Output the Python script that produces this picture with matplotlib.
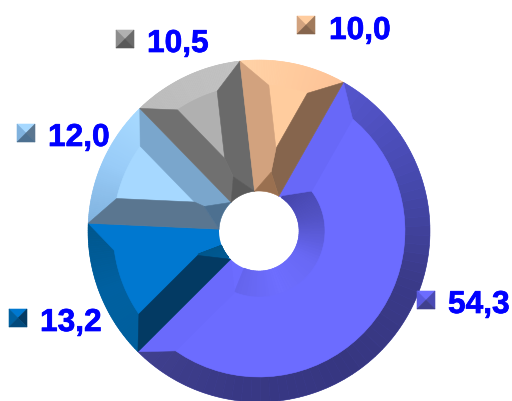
import numpy as np
import matplotlib
matplotlib.use('Agg')
import matplotlib.pyplot as plt
import matplotlib.patheffects as pe
from matplotlib.colors import to_rgb
from matplotlib.patches import Polygon

# values, clockwise from the big slice
values = [54.3, 13.2, 12.0, 10.5, 10.0]
labels = ['54,3', '13,2', '12,0', '10,5', '10,0']

# colours of each slice
face_colors = ['#6c6cff', '#0078d0', '#a6d8ff', '#b0b0b0', '#ffcc9e']
rim_colors = [['#40408e', '#383884', '#363680', '#3a3a88', '#474ab0', '#5555cc'],
              ['#00568c', '#0060a0', '#005f9c'],
              ['#a8daff', '#99ccf8', '#80b2de'],
              ['#c2c2c2', '#c0c0c0', '#bcbcbc'],
              ['#fdc297', '#ffcb9e', '#ffd3a8']]
edge1_colors = ['#6a6afc', '#0078d0', '#7aa6cc', '#6a6a6a', '#86654d']
edge2_colors = ['#6868f8', '#033a63', '#5a7690', '#707070', '#d2a27e']
hub_colors = [['#6464ec', '#6e6eff', '#6868f4', '#5252c4', '#4444a8'],
              ['#00568c', '#005a94'],
              ['#4d7090', '#456884'],
              ['#5a5a5a', '#626262'],
              ['#9a7050', '#a87c58']]
key_colors = [['#6c6cff', '#5a5ae0', '#4a4ab4', '#40408e'],
              ['#0078d0', '#0060a0', '#033a63', '#024a7c'],
              ['#a6d8ff', '#80b2de', '#5a7690', '#4d7090'],
              ['#b0b0b0', '#8c8c8c', '#6a6a6a', '#585858'],
              ['#ffcc9e', '#d2a27e', '#a07a5c', '#86654d']]

# layout in pixels, y counted from the bottom
W, H = 512, 401
center = (259, 170)
R = 171
r_hole = 40
r_rim = 146
r_hub = 66
r_tip = 60
inset = 26
key_size = 18
key_pos = [(417, 92), (9, 74), (17, 259), (116, 353), (297, 367)]
text_pos = [(448, 88), (40, 70), (48, 255), (147, 349), (329, 362)]


def pt(r, a):
    return (center[0] + r * np.cos(np.radians(a)), center[1] + r * np.sin(np.radians(a)))


def arc(r, a, b, n=40):
    return [pt(r, t) for t in np.linspace(a, b, n)]


def lerp_colors(stops, t):
    c = np.array([to_rgb(s) for s in stops])
    x = np.linspace(0, 1, len(stops))
    return tuple(np.interp(t, x, c[:, i]) for i in range(3))


def facet(ax, verts, color, z=3):
    ax.add_patch(Polygon(verts, closed=True, facecolor=color, edgecolor=color, lw=0.4, zorder=z))


def band(ax, r1, r2, a, b, stops, steps=60):
    # ring piece with a colour running along the angle
    ts = np.linspace(0, 1, steps + 1)
    for t0, t1 in zip(ts[:-1], ts[1:]):
        x0, x1 = a + (b - a) * t0, a + (b - a) * t1
        facet(ax, arc(r1, x0, x1, 4) + arc(r2, x1, x0, 4), lerp_colors(stops, (t0 + t1) / 2))


fig = plt.figure(figsize=(W / 100, H / 100), dpi=100)
ax = fig.add_axes([0, 0, 1, 1])

wedges, _ = ax.pie(values, colors=face_colors, center=center, radius=R, startangle=60.4,
                   counterclock=False, frame=True, wedgeprops={'width': R - r_hole})
ax.set_xlim(0, W)
ax.set_ylim(0, H)
ax.set_aspect('equal')
ax.axis('off')

for i, w in enumerate(wedges):
    a1, a2 = w.theta1, w.theta2
    half = (a2 - a1) / 2
    mid = (a1 + a2) / 2
    d_rim = np.degrees(np.arcsin(inset / r_rim))

    # the two corners of the flat face next to the rim
    rim1, rim2 = pt(r_rim, a1 + d_rim), pt(r_rim, a2 - d_rim)
    r_apex = inset / np.sin(np.radians(half)) if half < 90 else 0

    band(ax, R, r_rim, a1 + 0, a2, rim_colors[i])

    if r_apex > r_hub:
        # narrow slice: side faces meet in a point
        apex = pt(r_apex, mid)
        tip = pt(min(r_tip, r_apex), mid)
        facet(ax, arc(r_rim, a1 + d_rim, a2 - d_rim) + [apex], face_colors[i], 4)
        facet(ax, [pt(R, a1), rim1, apex, tip, pt(r_hole, a1)], edge1_colors[i], 4)
        facet(ax, [pt(R, a2), rim2, apex, tip, pt(r_hole, a2)], edge2_colors[i], 4)
        facet(ax, [pt(r_hole, a1), tip, pt(r_hole, a2)] + arc(r_hole, a2, a1), hub_colors[i][0], 5)
    else:
        d_hub = np.degrees(np.arcsin(inset / r_hub))
        facet(ax, arc(r_rim, a1 + d_rim, a2 - d_rim) + arc(r_hub, a2 - d_hub, a1 + d_hub),
              face_colors[i], 4)
        facet(ax, [pt(R, a1), rim1, pt(r_hub, a1 + d_hub), pt(r_hole, a1)], edge1_colors[i], 4)
        facet(ax, [pt(R, a2), rim2, pt(r_hub, a2 - d_hub), pt(r_hole, a2)], edge2_colors[i], 4)
        band(ax, r_hub, r_hole, a1 + d_hub, a2 - 4, hub_colors[i])

    # little pyramid key beside the number
    kx, ky = key_pos[i]
    s = key_size
    c = (kx + s / 2, ky + s / 2)
    top, left, right, bottom = key_colors[i]
    facet(ax, [(kx, ky + s), (kx + s, ky + s), c], top, 6)
    facet(ax, [(kx, ky), (kx, ky + s), c], left, 6)
    facet(ax, [(kx + s, ky), (kx + s, ky + s), c], right, 6)
    facet(ax, [(kx, ky), (kx + s, ky), c], bottom, 6)

    ax.text(text_pos[i][0], text_pos[i][1], labels[i], color='#0000ff', fontsize=22.8,
            fontweight='bold', family='Liberation Sans', ha='left', va='baseline', zorder=7,
            path_effects=[pe.withStroke(linewidth=0.5, foreground='#0000ff')])

plt.savefig('out.png', dpi=100)
